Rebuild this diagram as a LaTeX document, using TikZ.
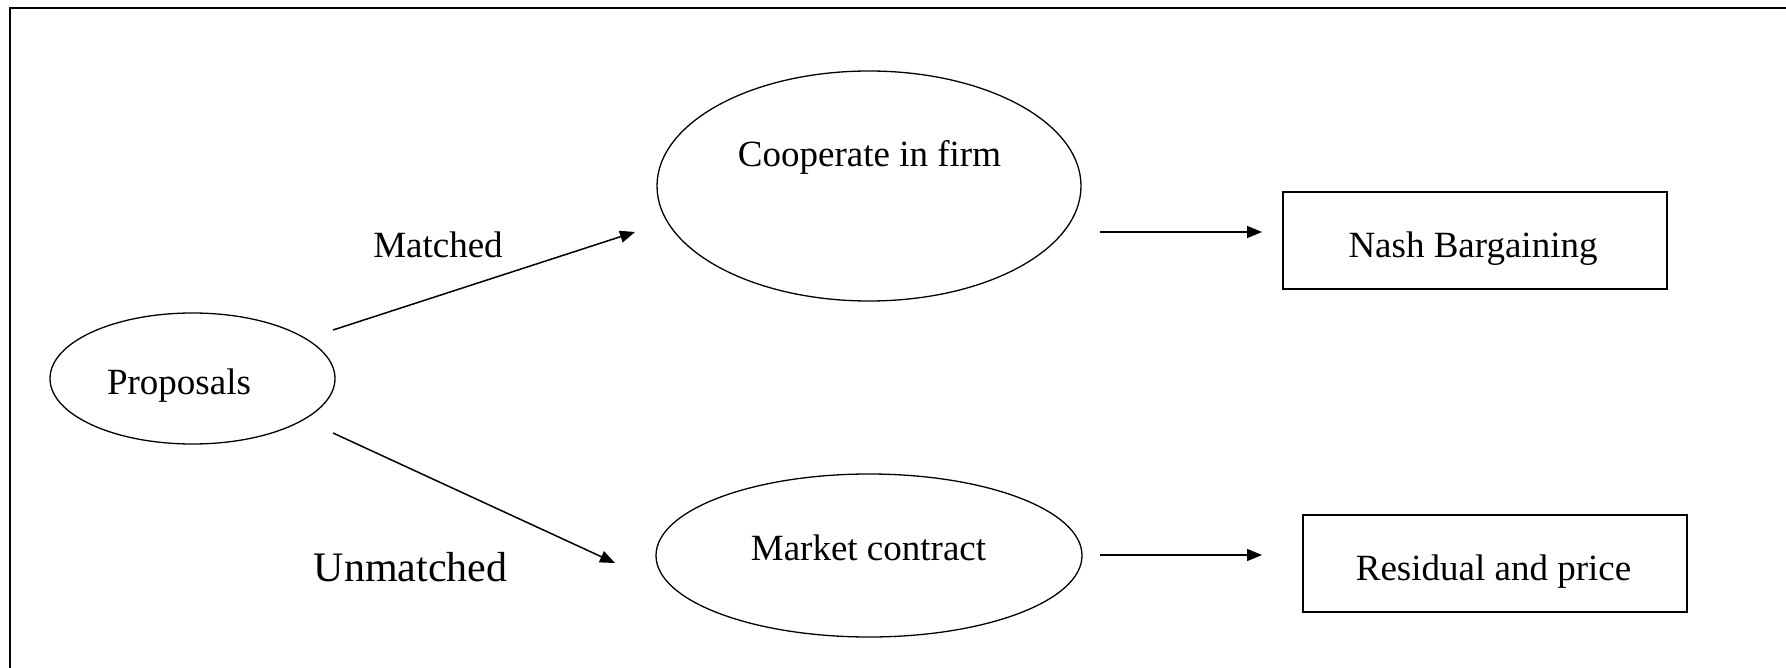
\documentclass[tikz,border=0pt]{standalone}
\usepackage{fontspec}
\setmainfont{Liberation Serif}
\usetikzlibrary{arrows.meta,shapes.geometric}
\begin{document}
\begin{tikzpicture}[x=0.5pt,y=-0.5pt,
  oval/.style={draw,ellipse,line width=0.65pt,inner sep=0pt},
  boxnode/.style={draw,rectangle,line width=0.65pt,inner sep=0pt,minimum width=192pt,minimum height=48.5pt},
  txt/.style={anchor=base,inner sep=0pt,font=\fontsize{18.5}{22}\selectfont},
  bigtxt/.style={anchor=base,inner sep=0pt,font=\fontsize{21}{25}\selectfont},
  arr/.style={line width=0.75pt,-{Triangle[length=7.5pt,width=6pt]}}]
\useasboundingbox (0,0) rectangle (1786,668);
% frame
\draw[line width=1pt] (10,668) -- (10,8) -- (1786,8);
% nodes
\node[oval,minimum width=142.5pt,minimum height=65.5pt] (prop) at (192.5,378.5) {};
\node[txt] (proptxt) at (179,394) {Proposals};
\node[oval,minimum width=212pt,minimum height=115pt] (coop) at (869,186) {};
\node[txt] (cooptxt) at (869.5,167) {Cooperate in firm};
\node[oval,minimum width=213pt,minimum height=81.5pt] (market) at (869,555.5) {};
\node[txt] (markettxt) at (868.5,560) {Market contract};
\node[boxnode] (nash) at (1475,240.5) {};
\node[txt] (nashtxt) at (1473,257) {Nash Bargaining};
\node[boxnode] (resid) at (1495,563.5) {};
\node[txt] (residtxt) at (1493.5,580) {Residual and price};
\node[txt] (matched) at (438,257) {Matched};
\node[bigtxt] (unmatched) at (410.5,581) {Unmatched};
% connector end points
\coordinate (m1) at (333,330);
\coordinate (m2) at (635,232);
\coordinate (u1) at (333,433);
\coordinate (u2) at (615,563);
\coordinate (c1) at (1100,232);
\coordinate (c2) at (1262,232);
\coordinate (k1) at (1100,555);
\coordinate (k2) at (1262,555);
\draw[arr] (m1) -- (m2);
\draw[arr] (u1) -- (u2);
\draw[arr] (c1) -- (c2);
\draw[arr] (k1) -- (k2);
\end{tikzpicture}
\end{document}
